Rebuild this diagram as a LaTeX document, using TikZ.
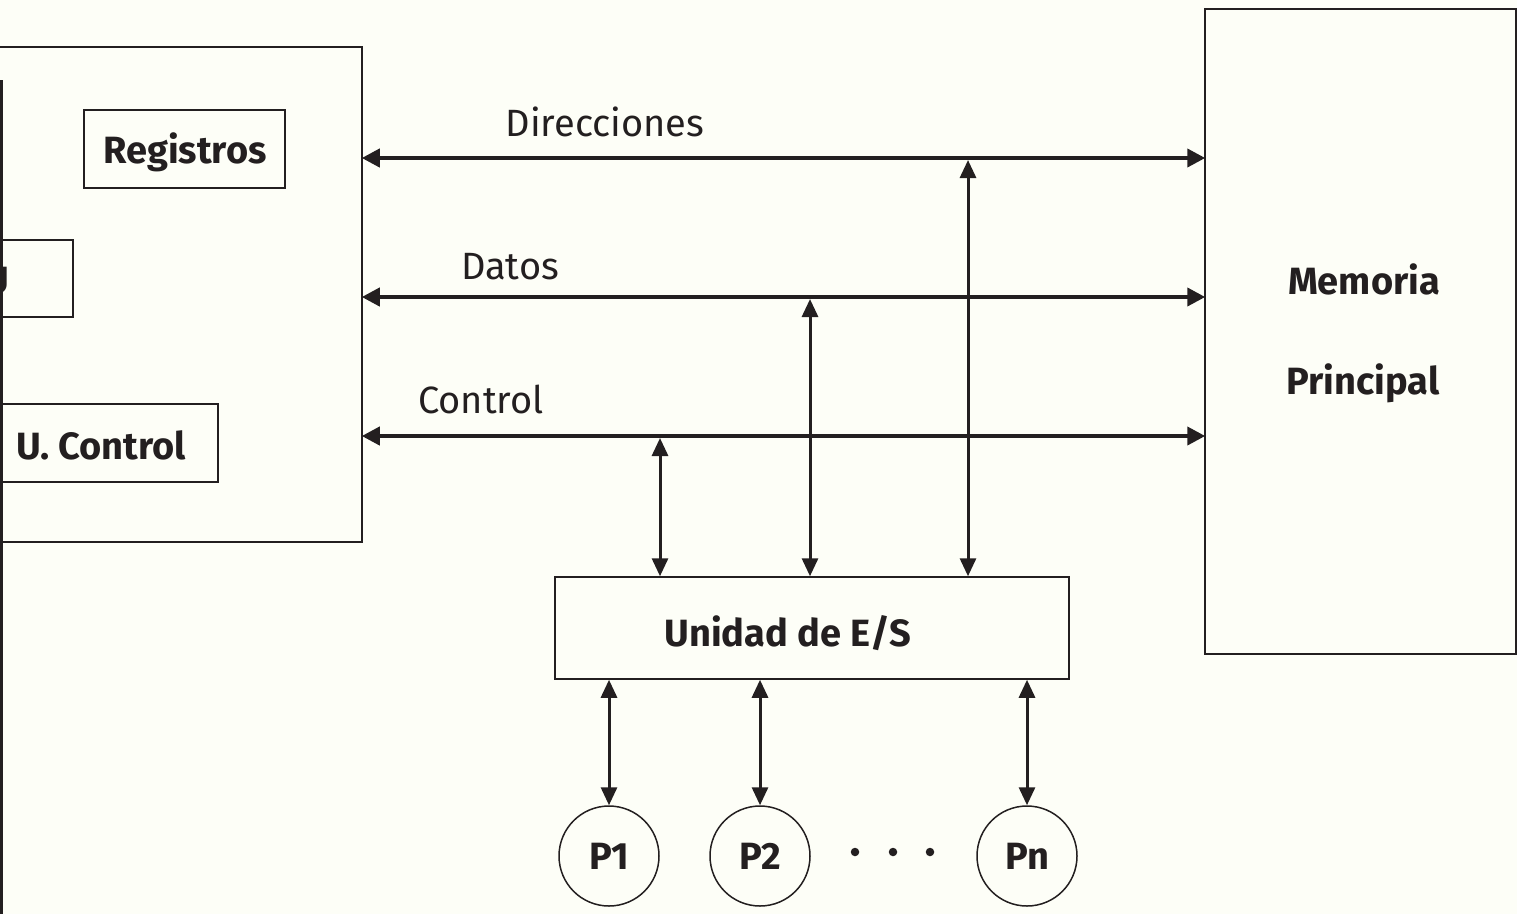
\documentclass[tikz,border=0pt]{standalone}
\usepackage{fontspec}
\setmainfont{Fira Sans}
\usetikzlibrary{arrows.meta}
\definecolor{bg}{RGB}{253,254,247}
\definecolor{ink}{RGB}{35,31,32}
\begin{document}
\begin{tikzpicture}[x=1pt,y=-1pt,
  box/.style={draw=ink,line width=1.5pt,inner sep=0pt,rectangle},
  blabel/.style={font=\fontsize{38}{42}\selectfont\bfseries,text=ink},
  rlabel/.style={font=\fontsize{38}{42}\selectfont,text=ink},
  bus/.style={draw=ink,line width=4pt,{Triangle[length=18pt,width=18pt]}-{Triangle[length=18pt,width=18pt]},shorten <=-1pt,shorten >=-1pt},
  vline/.style={draw=ink,line width=3pt,{Triangle[length=18pt,width=16pt]}-{Triangle[length=18pt,width=16pt]}},
  periph/.style={draw=ink,line width=1.5pt,circle,minimum size=100pt,inner sep=0pt,font=\fontsize{38}{42}\selectfont\bfseries,text=ink},
  dot/.style={circle,fill=ink,inner sep=0pt,minimum size=8.5pt}
]
\useasboundingbox[fill=bg] (0,0) rectangle (1517,914);
% CPU
\node[box,minimum width=372pt,minimum height=495pt] (cpu) at (176,294.5) {};
\draw[ink,line width=3pt] (1.5,80) -- (1.5,914);
\node[box,minimum width=201pt,minimum height=78pt] (reg) at (184.5,149) {};
\node[blabel] (regt) at (185,152) {Registros};
\node[box,minimum width=133pt,minimum height=77pt] (alu) at (6.5,278.5) {};
\node[blabel,anchor=east,inner sep=0pt] (alut) at (9,281) {ALU};
\node[box,minimum width=258pt,minimum height=78pt] (uc) at (89,443) {};
\node[blabel] (uct) at (101,445) {U. Control};
% Memory
\node[box,minimum width=311pt,minimum height=645pt] (mem) at (1360.5,331.5) {};
\node[blabel] (m1) at (1364,279) {Memoria};
\node[blabel] (m2) at (1363,383) {Principal};
% buses
\coordinate (ad) at (0,158);
\coordinate (da) at (0,297);
\coordinate (co) at (0,436);
\draw[bus] (cpu.east |- ad) -- (mem.west |- ad);
\draw[bus] (cpu.east |- da) -- (mem.west |- da);
\draw[bus] (cpu.east |- co) -- (mem.west |- co);
\node[rlabel] (lad) at (605,122) {Direcciones};
\node[rlabel] (lda) at (510,267) {Datos};
\node[rlabel] (lco) at (481,399) {Control};
% I/O unit
\node[box,minimum width=514pt,minimum height=102pt] (io) at (812,628) {};
\node[blabel] (iot) at (788,633) {Unidad de E/S};
\coordinate (x1) at (660,0);
\coordinate (x2) at (810,0);
\coordinate (x3) at (968,0);
\draw[vline] (x1 |- co) ++(0,2) -- (x1 |- io.north);
\draw[vline] (x2 |- da) ++(0,2) -- (x2 |- io.north);
\draw[vline] (x3 |- ad) ++(0,2) -- (x3 |- io.north);
% peripherals
\node[periph] (p1) at (609,856) {P1};
\node[periph] (p2) at (760,856) {P2};
\node[periph] (pn) at (1027,856) {Pn};
\draw[vline] (p1 |- io.south) -- (p1.north);
\draw[vline] (p2 |- io.south) -- (p2.north);
\draw[vline] (pn |- io.south) -- (pn.north);
\node[dot] (d1) at (855,852) {};
\node[dot] (d2) at (893,852) {};
\node[dot] (d3) at (930,852) {};
\end{tikzpicture}
\end{document}
